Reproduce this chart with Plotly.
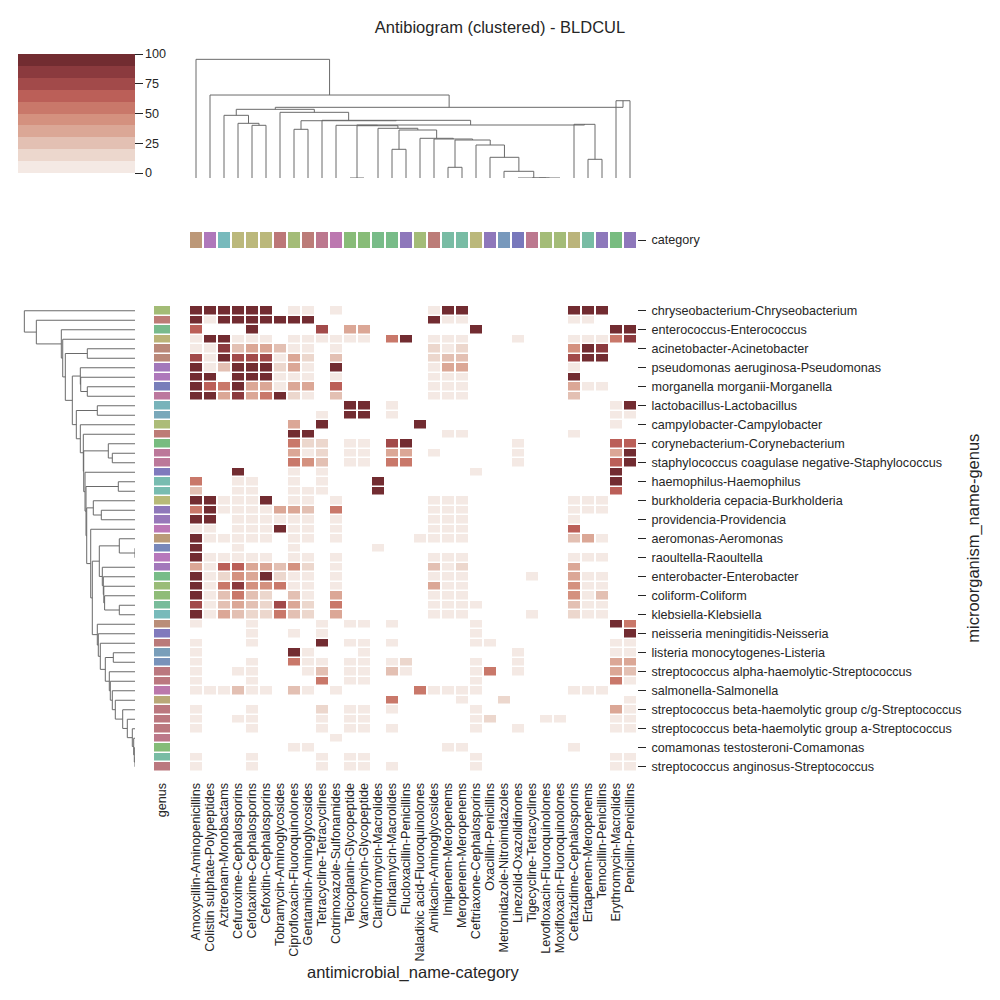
import plotly.graph_objects as go

_ = None
OFF = 8                      # page body margin of the rendered html
W, H = 1000 - 2 * OFF, 1000 - 2 * OFF
FONT = "Liberation Sans, Arial, sans-serif"
TXT = "#262626"

col_labels = ["Amoxycillin-Aminopenicillins", "Colistin sulphate-Polypeptides", "Aztreonam-Monobactams",
              "Cefuroxime-Cephalosporins", "Cefotaxime-Cephalosporins", "Cefoxitin-Cephalosporins",
              "Tobramycin-Aminoglycosides", "Ciprofloxacin-Fluoroquinolones", "Gentamicin-Aminoglycosides",
              "Tetracycline-Tetracyclines", "Cotrimoxazole-Sulfonamides", "Teicoplanin-Glycopeptide",
              "Vancomycin-Glycopeptide", "Clarithromycin-Macrolides", "Clindamycin-Macrolides",
              "Flucloxacillin-Penicillins", "Naladixic acid-Fluoroquinolones", "Amikacin-Aminoglycosides",
              "Imipenem-Meropenems", "Meropenem-Meropenems", "Ceftriaxone-Cephalosporins",
              "Oxacillin-Penicillins", "Metronidazole-Nitroimidazoles", "Linezolid-Oxazolidinones",
              "Tigecycline-Tetracyclines", "Levofloxacin-Fluoroquinolones", "Moxifloxacin-Fluoroquinolones",
              "Ceftazidime-Cephalosporins", "Ertapenem-Meropenems", "Temocillin-Penicillins",
              "Erythromycin-Macrolides", "Penicillin-Penicillins"]

row_labels_shown = ["chryseobacterium-Chryseobacterium", "enterococcus-Enterococcus",
                    "acinetobacter-Acinetobacter", "pseudomonas aeruginosa-Pseudomonas",
                    "morganella morganii-Morganella", "lactobacillus-Lactobacillus",
                    "campylobacter-Campylobacter", "corynebacterium-Corynebacterium",
                    "staphylococcus coagulase negative-Staphylococcus", "haemophilus-Haemophilus",
                    "burkholderia cepacia-Burkholderia", "providencia-Providencia",
                    "aeromonas-Aeromonas", "raoultella-Raoultella", "enterobacter-Enterobacter",
                    "coliform-Coliform", "klebsiella-Klebsiella", "neisseria meningitidis-Neisseria",
                    "listeria monocytogenes-Listeria", "streptococcus alpha-haemolytic-Streptococcus",
                    "salmonella-Salmonella", "streptococcus beta-haemolytic group c/g-Streptococcus",
                    "streptococcus beta-haemolytic group a-Streptococcus",
                    "comamonas testosteroni-Comamonas", "streptococcus anginosus-Streptococcus"]
row_label_positions = [0, 2, 4, 6, 8, 10, 12, 14, 16, 18, 20, 22, 24, 26, 28, 30, 32, 34, 36, 38,
                       40, 42, 44, 46, 48]

# resistance (%) per organism row (49) x antimicrobial column (32); None = not tested
resistance = [
    [95, 95, 95, 95, 95, 95, _, 5, 5, _, 5, _, _, _, _, _, _, 5, 95, 95, _, _, _, _, _, _, _, 95, 95, 95, _, _],
    [95, 5, 95, 95, 95, 95, 95, 95, 95, _, _, _, _, _, _, _, _, 95, 5, 5, _, _, _, _, _, _, _, 5, 5, _, _, _],
    [65, _, _, _, 95, _, _, _, _, 75, _, 35, 35, _, _, _, _, _, _, _, 95, _, _, _, _, _, _, _, _, _, 95, 95],
    [5, 95, 95, 5, 5, 5, _, 5, 5, 5, 5, 5, 5, _, 55, 95, _, 5, 5, 5, _, _, _, 5, _, _, _, 5, 5, 5, 55, 85],
    [5, 5, 85, 25, 35, 35, 25, 5, 5, _, 5, _, _, _, _, _, _, 15, 5, 15, _, _, _, _, _, _, _, 45, 95, 85, _, _],
    [75, 5, 95, 75, 75, 75, 5, 35, 15, _, 25, _, _, _, _, _, _, 15, 25, 25, _, _, _, _, _, _, _, 75, 95, 95, _, _],
    [95, 5, 25, 95, 95, 95, 15, 35, 5, _, 95, _, _, _, _, _, _, 5, 35, 35, _, _, _, _, _, _, _, 5, _, _, _, _],
    [95, 95, _, 95, 95, 95, 5, 5, 5, _, 5, _, _, _, _, _, _, 5, 5, 5, _, _, _, _, _, _, _, 95, _, _, _, _],
    [95, 65, 55, 95, 35, 35, 5, 35, 35, _, 65, _, _, _, _, _, _, 5, 5, 5, _, _, _, _, _, _, _, 35, 5, 5, _, _],
    [95, 95, 35, 85, 35, 55, 95, 15, 5, _, 25, _, _, _, _, _, _, 5, 5, 5, _, _, _, _, _, _, _, 25, _, _, _, _],
    [_, _, _, _, _, _, _, _, _, _, _, 95, 95, _, 5, _, _, _, _, _, _, _, _, _, _, _, _, _, _, _, 5, 95],
    [_, _, _, _, _, _, _, _, _, 5, _, 95, 95, _, 5, _, _, _, _, _, _, _, _, _, _, _, _, _, _, _, 5, 5],
    [_, _, _, _, _, _, _, 35, _, 95, _, _, _, _, _, _, 95, _, _, _, _, _, _, _, _, _, _, _, _, _, 5, _],
    [_, _, _, _, _, _, _, 95, 95, _, _, _, _, _, _, _, _, _, 5, 5, _, _, _, _, _, _, _, 5, _, _, _, _],
    [_, _, _, _, _, _, _, 55, 15, 15, _, 5, 5, _, 75, 95, _, _, _, _, _, _, _, 5, _, _, _, _, _, _, 65, 65],
    [_, _, _, _, _, _, _, 35, 5, 15, _, 5, 5, _, 35, 35, _, 5, _, _, _, _, _, 5, _, _, _, _, _, _, 35, 95],
    [_, _, _, _, _, _, _, 55, 45, 25, _, 5, 5, _, 55, 55, _, _, _, _, _, _, _, 5, _, _, _, _, _, _, 65, 95],
    [_, _, _, 95, _, _, _, 5, _, 5, _, _, _, _, _, _, _, _, _, _, 5, _, _, _, _, _, _, _, _, _, 95, _],
    [55, _, _, 5, 5, _, _, 5, _, 5, _, _, _, 95, _, _, _, _, _, _, _, _, _, _, _, _, _, _, _, _, 95, _],
    [25, _, _, 5, 5, _, _, 5, 5, 5, _, _, _, 95, _, _, _, _, _, _, _, _, _, _, _, _, _, _, _, _, 65, _],
    [95, 95, 5, 5, 5, 95, _, 5, 5, _, 5, _, _, _, _, _, _, 5, 5, 5, _, _, _, _, _, _, _, 5, 5, 5, _, _],
    [55, 95, 5, 5, 5, 5, 35, 35, 25, _, 55, _, _, _, _, _, _, 5, 5, 5, _, _, _, _, _, _, _, 5, 5, 5, _, _],
    [95, 95, _, 5, 5, 5, 5, 5, 5, _, 5, _, _, _, _, _, _, 5, 5, 5, _, _, _, _, _, _, _, 5, _, _, _, _],
    [5, 5, _, 5, 5, 5, 95, 5, 5, _, 5, _, _, _, _, _, _, 5, 5, 5, _, _, _, _, _, _, _, 65, _, _, _, _],
    [95, 5, 5, 5, 5, 5, _, 5, 5, _, 5, _, _, _, _, _, 5, 5, 5, 5, _, _, _, _, _, _, _, 25, 35, 5, _, _],
    [95, _, _, 5, _, _, _, 5, _, _, _, _, _, 5, _, _, _, _, _, _, _, _, _, _, _, _, _, _, _, _, _, _],
    [95, 5, 5, 5, 5, 5, _, 5, 5, _, 5, _, _, _, _, _, _, 5, 5, 5, _, _, _, _, _, _, _, 5, 5, 5, _, _],
    [35, 5, 65, 65, 35, 35, 25, 45, 15, _, 5, _, _, _, _, _, _, 25, 5, 15, _, _, _, _, _, _, _, 35, _, _, _, _],
    [95, 5, 15, 45, 35, 95, 15, 5, 5, _, 5, _, _, _, _, _, _, 5, 5, 5, _, _, _, _, 5, _, _, 35, 5, 5, _, _],
    [95, 5, 55, 85, 45, 45, 55, 5, 5, _, 5, _, _, _, _, _, _, 35, 5, 5, _, _, _, _, _, _, _, 45, 5, 5, _, _],
    [95, 5, 25, 55, 25, 15, _, 25, 5, _, 35, _, _, _, _, _, _, 5, 5, 5, _, _, _, _, _, _, _, 45, 5, 25, _, _],
    [75, 5, 25, 35, 25, 15, 75, 35, 15, _, 55, _, _, _, _, _, _, 5, 5, 5, 5, _, _, _, _, _, _, 25, 5, 5, _, _],
    [95, 5, 35, 25, 15, 15, 55, 25, 15, _, 35, _, _, _, _, _, _, 5, 5, 5, _, _, _, _, 5, _, _, 15, 5, 5, _, _],
    [5, _, _, _, 5, _, _, _, _, 5, _, 5, 5, _, 5, _, _, _, _, _, 5, _, _, _, _, _, _, _, _, _, 95, 55],
    [_, _, _, _, 5, _, _, 5, _, 5, _, _, _, _, _, _, _, _, _, _, 5, _, _, _, _, _, _, _, _, _, _, 95],
    [5, _, _, _, 5, _, _, _, _, 95, _, 5, 5, _, 5, _, _, _, _, _, 5, 5, _, _, _, _, _, _, _, _, 5, 5],
    [5, _, _, _, _, _, _, 95, 5, _, _, _, 5, _, _, _, _, _, _, _, _, _, _, 5, _, _, _, _, _, _, 5, 5],
    [5, _, _, _, 5, _, _, 55, 5, 5, _, 5, 5, _, 5, 15, _, _, _, _, 5, _, _, 5, _, _, _, _, _, _, 35, 35],
    [5, _, _, 5, 5, _, _, _, 5, 25, _, 5, 5, _, 25, 5, _, _, _, _, 5, 55, _, 5, _, _, _, _, _, _, 35, 25],
    [5, _, _, _, 5, _, _, _, _, 55, _, 5, 5, _, _, _, _, _, _, _, 5, _, _, _, _, _, _, _, _, _, 55, 5],
    [5, 5, 5, 25, 5, 5, _, 25, 5, _, 5, _, _, _, _, _, 55, 5, 5, 5, 5, _, _, _, _, _, _, 5, 5, 5, _, _],
    [_, _, _, _, _, _, _, _, _, _, _, _, _, _, 55, _, _, _, _, 5, _, _, 15, _, _, _, _, _, _, _, _, 5],
    [5, _, _, _, 5, _, _, _, _, 15, _, 5, 5, _, 5, _, _, _, _, _, 5, _, _, _, _, _, _, _, _, _, 35, 5],
    [5, _, _, 5, 5, _, _, _, _, 5, _, 5, 5, _, _, _, _, _, _, _, 5, 15, _, _, _, 5, 5, _, _, _, 5, 5],
    [5, _, _, _, 5, _, _, _, _, 5, _, 5, 5, _, 5, _, _, _, _, _, 5, _, _, 5, _, _, _, _, _, _, 5, 5],
    [_, _, _, _, _, _, _, _, _, _, 5, _, _, _, _, _, _, _, _, _, _, _, _, _, _, _, _, _, _, _, _, _],
    [_, _, _, _, _, _, _, 5, 5, _, _, _, _, _, _, _, _, _, 5, 5, _, _, _, _, _, _, _, 5, _, _, _, _],
    [5, _, _, _, 5, _, _, _, _, 5, _, 5, 5, _, _, _, _, _, _, _, 5, _, _, _, _, _, _, _, _, _, 5, 5],
    [5, _, _, _, 5, _, _, _, _, 5, _, 5, 5, _, 5, _, _, _, _, _, 5, _, _, _, _, _, _, _, _, _, 5, 5],
]

genus_colors = ["#A3BC76", "#BD7B76", "#78BA8C", "#BBB378", "#BA8879", "#BA8879", "#A278BB", "#AE78BB",
                "#787EBA", "#BC789E", "#78B3BA", "#79A8BA", "#ACBC78", "#BD7B76", "#78BC80", "#BC789A",
                "#BC789A", "#7F7ABD", "#78BCB0", "#78BCB0", "#B8BA78", "#8F78BA", "#9878BA", "#BC78B6",
                "#BA9B78", "#7888BA", "#B778BC", "#A278BB", "#78BC88", "#9ABC78", "#8FBC78", "#78BC9A",
                "#78BABA", "#BA8E78", "#817ABD", "#BA7A7A", "#799EBA", "#7892BA", "#BB787F", "#BB787F",
                "#BB78AC", "#B9A878", "#BB787F", "#BB787F", "#BB787F", "#BC7889", "#84BC78", "#78BCA4",
                "#BB787F"]

category_colors = ["#BC9878", "#AF78BB", "#78BABC", "#BBB87B", "#BBB87B", "#BBB87B", "#BC7878", "#A4BC78",
                   "#BC7C78", "#BC788F", "#BC78B0", "#88BC78", "#88BC78", "#78BC88", "#78BC88", "#8E78BB",
                   "#A4BC78", "#BC7C78", "#78BCA4", "#78BCA4", "#BBB87B", "#8E78BB", "#7899BC", "#7878BC",
                   "#BC788F", "#A4BC78", "#A4BC78", "#BBB47B", "#78BCA4", "#8E78BB", "#78BC80", "#8E78BB"]

heat_colors = ["#F4E9E4", "#ECD7CD", "#E3C0B3", "#DBA796", "#D4917F", "#C9786A", "#BB5F58", "#A24A4A",
               "#8B3A3E", "#722C31"]
cbar_ticks = [0, 25, 50, 75, 100]

# column dendrogram linkage: (node, child_a, child_b, height); ints are column leaves
col_linkage = [
    ("P12", 11, 12, 0), ("V5", 24, 25, 0), ("V4", "V5", 26, 0), ("V3", 23, "V4", 0),
    ("V2", 22, "V3", 6.7), ("V", 21, "V2", 20.7), ("W", 20, "V", 33), ("P1819", 18, 19, 10.7),
    ("Y", "P1819", "W", 38), ("Z", 17, "Y", 39), ("Z2", 16, "Z", 39.7), ("P1415", 14, 15, 28.7),
    ("Z3", "P1415", "Z2", 48), ("U1", 13, "Z3", 49.7), ("U2", "P12", "U1", 52.3),
    ("L1", 10, "U2", 52.7), ("N", 28, 29, 18.7), ("M", 27, "N", 53.7), ("L2", "L1", "M", 53),
    ("K", 9, "L2", 57.7), ("J", 7, 8, 48.7), ("I", "J", "K", 57.3), ("F", 6, "I", 65.7),
    ("H", 4, 5, 52.7), ("G", 3, "H", 54.7), ("E", 2, "G", 62.7), ("C", "E", "F", 68.7),
    ("D", 30, 31, 77.3), ("B", "C", "D", 70.7), ("A", 1, "B", 83), ("root", 0, "A", 118.7),
]

# row dendrogram linkage; ints are row leaves
row_linkage = [
    ("T", 4, 5, 47.7), ("X", 8, 9, 47.7), ("Y", 7, "X", 54.3), ("V", 6, "Y", 54.7),
    ("Z", 10, 11, 37.7), ("AD", 15, 16, 22.7), ("AE", 14, "AD", 26.7), ("P1819", 18, 19, 16.7),
    ("AI", 21, 22, 33.7), ("AH2", 20, "AI", 41.7), ("AL", 25, 26, 0), ("AJ", 24, "AL", 15.7),
    ("AO", 31, 32, 15.7), ("AN", 30, "AO", 30.4), ("AM2", 29, "AN", 31.2), ("AM", 28, "AM2", 31.7),
    ("AK", 27, "AM", 32.7), ("AQ", "AJ", "AK", 35.7), ("L48", 47, 48, 0), ("L46", 46, "L48", 0.7),
    ("L45", 45, "L46", 1.3), ("L44", 44, "L45", 2.7), ("L43", 43, "L44", 7.7), ("L42", 42, "L43", 12.3),
    ("L41", 41, "L42", 19.7), ("L40", 40, "L41", 22.7), ("L39", 39, "L40", 24.7), ("L38", 38, "L39", 25.7),
    ("P36", 36, 37, 21.7), ("L37", "P36", "L38", 29.7), ("L35", 35, "L37", 34.7), ("L34", 34, "L35", 36.7),
    ("L33", 33, "L34", 37.7), ("AV", "AQ", "L33", 42.7), ("AW", 23, "AV", 44.3), ("AX", "AH2", "AW", 48.3),
    ("AR", "P1819", "AX", 49), ("AS", 17, "AR", 50), ("AF", "AE", "AS", 51.3), ("AB", 13, "AF", 51.7),
    ("AA", 12, "AB", 54.7), ("W", "Z", "AA", 58.7), ("U", "V", "W", 62.7), ("S", "T", "U", 69.7),
    ("R", 3, "S", 72.3), ("Q", 2, "R", 73.7), ("P", 1, "Q", 98.7), ("root", 0, "P", 110.7),
]

n_rows, n_cols = len(resistance), len(col_labels)


def dendro_lines(linkage):
    pos, hgt = {}, {}
    leaf_pos, heights = [], []
    for name, a, b, h in linkage:
        pa, ha = (float(a), 0.0) if isinstance(a, int) else (pos[a], hgt[a])
        pb, hb = (float(b), 0.0) if isinstance(b, int) else (pos[b], hgt[b])
        leaf_pos += [pa, pa, pb, pb, None]
        heights += [ha, h, h, hb, None]
        pos[name] = (pa + pb) / 2
        hgt[name] = h
    return leaf_pos, heights, max(hgt.values())


def stepped(colors):
    n = len(colors)
    cs = []
    for i, c in enumerate(colors):
        cs += [[i / n, c], [(i + 1) / n, c]]
    return cs


# screen pixel -> paper fraction
def fx(p):
    return (p - OFF) / W


def fy(p):
    return 1 - (p - OFF) / H


def px_x(a, b):
    return [fx(a), fx(b)]


def px_y(top, bottom):
    return [fy(bottom), fy(top)]


# layout geometry (screen pixels)
HM_X = (189, 637)
HM_Y = (306, 771.5)
COLD_Y = (53.4, 178)
ROWD_X = (18.8, 135)
GENUS_X = (153, 171)
CAT_Y = (231, 249)

TICK_SIZE = 12.6
TITLE_SIZE = 16.5

fig = go.Figure()

fig.add_trace(go.Heatmap(
    z=resistance, x=list(range(n_cols)), y=list(range(n_rows)),
    zmin=0, zmax=100, colorscale=stepped(heat_colors), xgap=2, ygap=1.5,
    xaxis="x", yaxis="y", hoverongaps=False,
    colorbar=dict(x=fx(18), xanchor="left", y=fy(54), yanchor="top",
                  len=119, lenmode="pixels", thickness=117, thicknessmode="pixels",
                  outlinewidth=0, xpad=0, ypad=0, tickvals=cbar_ticks, ticks="outside",
                  ticklen=8, tickwidth=1.3, tickcolor=TXT,
                  tickfont=dict(size=TICK_SIZE, color=TXT, family=FONT)),
))

fig.add_trace(go.Heatmap(
    z=[[i] for i in range(n_rows)], x=[0], y=list(range(n_rows)),
    zmin=-0.5, zmax=n_rows - 0.5, colorscale=stepped(genus_colors), showscale=False,
    xgap=2, ygap=1.5, xaxis="x4", yaxis="y", hoverinfo="skip",
))

fig.add_trace(go.Heatmap(
    z=[list(range(n_cols))], x=list(range(n_cols)), y=[0],
    zmin=-0.5, zmax=n_cols - 0.5, colorscale=stepped(category_colors), showscale=False,
    xgap=2, ygap=2, xaxis="x", yaxis="y5", hoverinfo="skip",
))

cx, cy, cmax = dendro_lines(col_linkage)
fig.add_trace(go.Scatter(x=cx, y=cy, mode="lines", line=dict(color="#6a6a6a", width=1),
                         xaxis="x2", yaxis="y2", hoverinfo="skip", showlegend=False))
ry, rx, rmax = dendro_lines(row_linkage)
fig.add_trace(go.Scatter(x=rx, y=ry, mode="lines", line=dict(color="#6a6a6a", width=1),
                         xaxis="x3", yaxis="y3", hoverinfo="skip", showlegend=False))

hidden = dict(showgrid=False, zeroline=False, showline=False, showticklabels=False, ticks="",
              automargin=False)
tickfont = dict(size=TICK_SIZE, color=TXT, family=FONT)

fig.update_layout(
    width=W, height=H, margin=dict(l=0, r=0, t=0, b=0, autoexpand=False),
    paper_bgcolor="white", plot_bgcolor="white", showlegend=False,
    font=dict(family=FONT, color=TXT),
    title=dict(text="Antibiogram (clustered) - BLDCUL", x=fx(500), xanchor="center",
               y=fy(27), yanchor="middle", font=dict(size=TITLE_SIZE, color=TXT, family=FONT)),
    xaxis=dict(domain=px_x(*HM_X), range=[-0.5, n_cols - 0.5], anchor="y",
               tickmode="array", tickvals=list(range(n_cols)), ticktext=col_labels,
               tickangle=-90, ticks="", showgrid=False, zeroline=False, showline=False,
               tickfont=tickfont, ticklabelstandoff=8, automargin=False),
    yaxis=dict(domain=px_y(*HM_Y), range=[n_rows - 0.5, -0.5], anchor="x", side="right",
               tickmode="array", tickvals=row_label_positions, ticktext=row_labels_shown,
               ticks="outside", ticklen=8, tickwidth=1.3, tickcolor=TXT,
               showgrid=False, zeroline=False, showline=False, tickfont=tickfont,
               ticklabelstandoff=3, automargin=False),
    xaxis2=dict(domain=px_x(*HM_X), range=[-0.5, n_cols - 0.5], anchor="y2", **hidden),
    yaxis2=dict(domain=px_y(*COLD_Y), range=[0, cmax * 1.05], anchor="x2", **hidden),
    xaxis3=dict(domain=px_x(*ROWD_X), range=[rmax * 1.05, 0], anchor="y3", **hidden),
    yaxis3=dict(domain=px_y(*HM_Y), range=[n_rows - 0.5, -0.5], anchor="x3", **hidden),
    xaxis4=dict(domain=px_x(*GENUS_X), range=[-0.5, 0.5], anchor="y",
                tickmode="array", tickvals=[0], ticktext=["genus"], tickangle=-90, ticks="",
                showgrid=False, zeroline=False, showline=False, tickfont=tickfont,
                ticklabelstandoff=8, automargin=False),
    yaxis5=dict(domain=px_y(*CAT_Y), range=[-0.5, 0.5], anchor="x", side="right",
                tickmode="array", tickvals=[0], ticktext=["category"],
                ticks="outside", ticklen=8, tickwidth=1.3, tickcolor=TXT,
                showgrid=False, zeroline=False, showline=False, tickfont=tickfont,
                ticklabelstandoff=3, automargin=False),
    annotations=[
        dict(text="antimicrobial_name-category", x=fx((HM_X[0] + HM_X[1]) / 2), y=fy(972),
             xref="paper", yref="paper", showarrow=False, xanchor="center", yanchor="middle",
             font=dict(size=TITLE_SIZE, color=TXT, family=FONT)),
        dict(text="microorganism_name-genus", x=fx(974), y=fy((HM_Y[0] + HM_Y[1]) / 2),
             xref="paper", yref="paper", showarrow=False, textangle=-90,
             xanchor="center", yanchor="middle", font=dict(size=TITLE_SIZE, color=TXT, family=FONT)),
    ],
)

fig.write_html("out.html")
